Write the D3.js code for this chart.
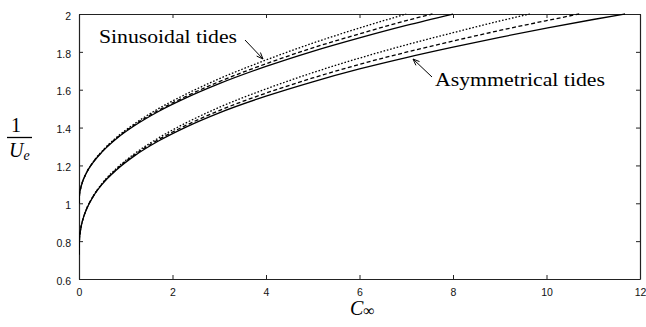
<!DOCTYPE html>
<html>
<head>
<meta charset="utf-8">
<script src="https://cdn.jsdelivr.net/npm/d3@7"></script>
<style>
  html, body { margin: 0; padding: 0; background: #fff; }
  svg { display: block; }
</style>
</head>
<body>
<svg id="chart" width="646" height="327"></svg>
<script>
// Inverse efficiency 1/Ue against C∞ for sinusoidal and asymmetrical tides.
const xTicks = [0, 2, 4, 6, 8, 10, 12];
const yTicks = [0.6, 0.8, 1, 1.2, 1.4, 1.6, 1.8, 2];

// Sinusoidal tides
const sinSolidC  = [0, 0.01, 0.03, 0.08, 0.15, 0.3, 0.5, 0.8, 1.2, 1.7, 2.3, 3, 4, 5, 6, 7, 8];
const sinSolidV  = [1, 1.044, 1.073, 1.116, 1.156, 1.215, 1.273, 1.341, 1.412, 1.485, 1.558, 1.632, 1.723, 1.803, 1.874, 1.940, 2.0];
const sinDashC   = [0, 0.01, 0.03, 0.08, 0.15, 0.3, 0.5, 0.8, 1.2, 1.7, 2.3, 3, 4, 5, 6, 7, 7.56];
const sinDashV   = [1, 1.044, 1.073, 1.116, 1.157, 1.216, 1.275, 1.344, 1.416, 1.491, 1.566, 1.643, 1.737, 1.821, 1.895, 1.965, 2.0];
const sinDotC    = [0, 0.01, 0.03, 0.08, 0.15, 0.3, 0.5, 0.8, 1.2, 1.7, 2.3, 3, 4, 5, 6, 7];
const sinDotV    = [1, 1.044, 1.073, 1.117, 1.157, 1.218, 1.277, 1.348, 1.422, 1.500, 1.578, 1.658, 1.757, 1.846, 1.926, 2.0];

// Asymmetrical tides
const asySolidC  = [0, 0.01, 0.03, 0.08, 0.15, 0.3, 0.5, 0.8, 1.2, 1.7, 2.3, 3, 4, 5, 6, 7, 8, 9, 10, 11, 11.68];
const asySolidV  = [0.73, 0.811, 0.854, 0.912, 0.962, 1.034, 1.102, 1.176, 1.253, 1.329, 1.404, 1.478, 1.566, 1.642, 1.710, 1.770, 1.825, 1.877, 1.925, 1.971, 2.0];
const asyDashC   = [0, 0.01, 0.03, 0.08, 0.15, 0.3, 0.5, 0.8, 1.2, 1.7, 2.3, 3, 4, 5, 6, 7, 8, 9, 10, 10.7];
const asyDashV   = [0.73, 0.811, 0.854, 0.912, 0.963, 1.035, 1.104, 1.179, 1.258, 1.336, 1.413, 1.490, 1.582, 1.662, 1.734, 1.798, 1.857, 1.913, 1.965, 2.0];
const asyDotC    = [0, 0.01, 0.03, 0.08, 0.15, 0.3, 0.5, 0.8, 1.2, 1.7, 2.3, 3, 4, 5, 6, 7, 8, 9, 9.64];
const asyDotV    = [0.73, 0.811, 0.854, 0.913, 0.963, 1.037, 1.107, 1.184, 1.264, 1.345, 1.426, 1.507, 1.604, 1.690, 1.767, 1.837, 1.901, 1.963, 2.0];

const curves = [
  { c: sinSolidC, v: sinSolidV, dash: null },
  { c: sinDashC,  v: sinDashV,  dash: "4,2.5" },
  { c: sinDotC,   v: sinDotV,   dash: "1.6,1.8" },
  { c: asySolidC, v: asySolidV, dash: null },
  { c: asyDashC,  v: asyDashV,  dash: "4,2.5" },
  { c: asyDotC,   v: asyDotV,   dash: "1.6,1.8" }
];

const W = 646, H = 327;
const margin = { top: 14, right: 6, bottom: 48, left: 79 };
const svg = d3.select("#chart");

const x = d3.scaleLinear().domain([0, 12]).range([margin.left, W - margin.right]);
const y = d3.scaleLinear().domain([0.6, 2]).range([H - margin.bottom, margin.top]);

const fmt = d3.format("~g");
const tickFont = "'Liberation Sans', Arial, sans-serif";

// Frame with inward ticks on all four sides
const axisB = svg.append("g").attr("transform", `translate(0,${H - margin.bottom})`)
  .call(d3.axisBottom(x).tickValues(xTicks).tickFormat(fmt).tickSize(-4).tickSizeOuter(0).tickPadding(10));
const axisL = svg.append("g").attr("transform", `translate(${margin.left},0)`)
  .call(d3.axisLeft(y).tickValues(yTicks).tickFormat(fmt).tickSize(-4).tickSizeOuter(0).tickPadding(8));
const axisT = svg.append("g").attr("transform", `translate(0,${margin.top})`)
  .call(d3.axisTop(x).tickValues(xTicks).tickFormat("").tickSize(-4).tickSizeOuter(0));
const axisR = svg.append("g").attr("transform", `translate(${W - margin.right},0)`)
  .call(d3.axisRight(y).tickValues(yTicks).tickFormat("").tickSize(-4).tickSizeOuter(0));

[axisB, axisL, axisT, axisR].forEach(g => {
  g.select(".domain").attr("stroke", "#222").attr("stroke-width", 1.2);
  g.selectAll(".tick line").attr("stroke", "#222").attr("stroke-width", 1);
  g.selectAll("text").attr("font-family", tickFont).attr("font-size", 10.5).attr("fill", "#111");
});
axisL.selectAll("text").attr("dy", "0.5em");

// Curves
const clipId = "plotclip";
svg.append("clipPath").attr("id", clipId).append("rect")
  .attr("x", margin.left).attr("y", margin.top - 1)
  .attr("width", W - margin.left - margin.right).attr("height", H - margin.top - margin.bottom + 1);

const line = d3.line()
  .x(d => x(d[0]))
  .y(d => y(d[1]))
  .curve(d3.curveMonotoneX);

const plot = svg.append("g").attr("clip-path", `url(#${clipId})`);
curves.forEach(s => {
  plot.append("path")
    .datum(s.c.map((c, i) => [c, s.v[i]]))
    .attr("d", line)
    .attr("fill", "none")
    .attr("stroke", "#000")
    .attr("stroke-width", 1.3)
    .attr("stroke-dasharray", s.dash);
});

// Annotations
const serif = "'Liberation Serif', 'DejaVu Serif', serif";
svg.append("text").attr("x", 99).attr("y", 43)
  .attr("font-family", serif).attr("font-size", 19.5)
  .attr("textLength", 138).attr("lengthAdjust", "spacingAndGlyphs")
  .text("Sinusoidal tides");
svg.append("text").attr("x", 435).attr("y", 86)
  .attr("font-family", serif).attr("font-size", 19.5)
  .attr("textLength", 170).attr("lengthAdjust", "spacingAndGlyphs")
  .text("Asymmetrical tides");

function arrow(x1, y1, x2, y2) {
  svg.append("line").attr("x1", x1).attr("y1", y1).attr("x2", x2).attr("y2", y2)
    .attr("stroke", "#000").attr("stroke-width", 1);
  const a = Math.atan2(y2 - y1, x2 - x1), L = 7, spread = 0.38;
  const pts = [
    [x2 - L * Math.cos(a - spread), y2 - L * Math.sin(a - spread)],
    [x2, y2],
    [x2 - L * Math.cos(a + spread), y2 - L * Math.sin(a + spread)]
  ];
  svg.append("path").attr("d", d3.line()(pts)).attr("fill", "none")
    .attr("stroke", "#000").attr("stroke-width", 1);
}
arrow(245, 40, 263, 59);
arrow(432, 77, 413, 59);

// Axis titles
svg.append("text").attr("x", 16).attr("y", 132).attr("text-anchor", "middle")
  .attr("font-family", serif).attr("font-size", 20).text("1");
svg.append("line").attr("x1", 7).attr("x2", 32).attr("y1", 137.5).attr("y2", 137.5)
  .attr("stroke", "#000").attr("stroke-width", 1.3);
const ue = svg.append("text").attr("x", 9).attr("y", 157)
  .attr("font-family", serif).attr("font-size", 20).attr("font-style", "italic");
ue.append("tspan").text("U");
ue.append("tspan").attr("font-size", 14).attr("dy", 3).text("e");

const cinf = svg.append("text").attr("x", 350).attr("y", 315)
  .attr("font-family", serif).attr("font-size", 20);
cinf.append("tspan").attr("font-style", "italic").text("C");
cinf.append("tspan").attr("font-size", 16).attr("dy", 1).text("∞");
</script>
</body>
</html>
